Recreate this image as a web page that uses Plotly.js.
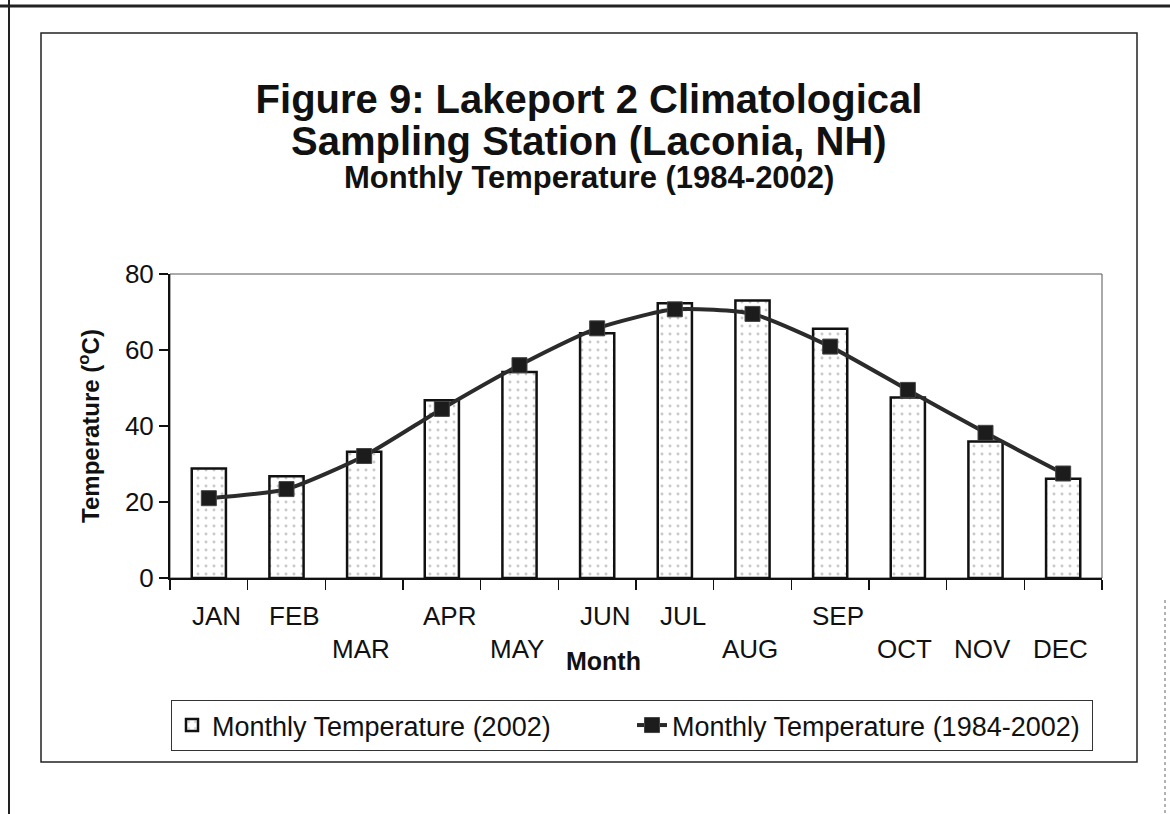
<!DOCTYPE html>
<html>
<head>
<meta charset="utf-8">
<script src="https://cdn.plot.ly/plotly-3.0.1.min.js"></script>
<style>html,body{margin:0;padding:0;background:#fff;}#chart{width:1170px;height:814px;}</style>
</head>
<body>
<div id="chart"></div>
<script>
// ---- data ----
const months = ['JAN','FEB','MAR','APR','MAY','JUN','JUL','AUG','SEP','OCT','NOV','DEC'];
const temp2002 = [28.8, 26.8, 33.2, 46.8, 54.2, 64.4, 72.3, 73.0, 65.6, 47.5, 35.9, 26.1];
const temp1984_2002 = [21.0, 23.4, 32.1, 44.5, 56.0, 65.7, 70.7, 69.5, 60.9, 49.5, 38.2, 27.5];
const yTicks = [0, 20, 40, 60, 80];
const labelRow = [1,1,2,1,2,1,1,2,1,2,2,2];

// ---- layout helpers (pixel -> paper) ----
const L = 170, R = 1102, T = 274, B = 578;
const px = x => (x - L) / (R - L);
const py = y => (B - y) / (B - T);
const FONT = 'Liberation Sans, Arial, sans-serif';
const TITLE_X = 589;

const bars = {
  type: 'bar', x: months, y: temp2002, name: 'Monthly Temperature (2002)',
  marker: {color: '#ffffff', line: {color: '#111', width: 2.5},
           pattern: {shape: '.', fgcolor: '#c8c8c8', bgcolor: '#ffffff', size: 8, solidity: 0.1}},
  hoverinfo: 'x+y'
};
const line = {
  type: 'scatter', mode: 'lines+markers', x: months, y: temp1984_2002,
  name: 'Monthly Temperature (1984-2002)',
  line: {color: '#2b2b2b', width: 4, shape: 'spline', smoothing: 0.6},
  marker: {symbol: 'square', size: 15, color: '#1c1c1c', line: {color: '#444', width: 1}}
};

const annotations = months.map((m, i) => ({
  x: m, xref: 'x', y: 0, yref: 'paper', yanchor: 'middle', xanchor: 'center',
  yshift: labelRow[i] === 1 ? -38 : -71, xshift: labelRow[i] === 1 ? 8 : -3,
  text: m, showarrow: false, font: {family: FONT, size: 26, color: '#111'}
}));
annotations.push({
  x: px(TITLE_X), xref: 'paper', y: py(141), yref: 'paper', xanchor: 'center', yanchor: 'middle',
  text: '<b>Sampling Station (Laconia, NH)</b>', showarrow: false,
  font: {family: FONT, size: 40, color: '#111'}
});
annotations.push({
  x: px(TITLE_X), xref: 'paper', y: py(178), yref: 'paper', xanchor: 'center', yanchor: 'middle',
  text: '<b>Monthly Temperature (1984-2002)</b>', showarrow: false,
  font: {family: FONT, size: 31, color: '#111'}
});
annotations.push({
  x: px(603), xref: 'paper', y: py(661), yref: 'paper', xanchor: 'center', yanchor: 'middle',
  text: '<b>Month</b>', showarrow: false,
  font: {family: FONT, size: 25, color: '#111'}
});

const shapes = [
  {type: 'rect', xref: 'paper', yref: 'paper', x0: 0, x1: 1, y0: 0, y1: 1,
   line: {color: '#555', width: 1}, layer: 'below'},
  {type: 'rect', xref: 'paper', yref: 'paper', x0: px(41), x1: px(1137), y0: py(762), y1: py(33),
   line: {color: '#222', width: 1.5}},
  {type: 'line', xref: 'paper', yref: 'paper', x0: px(9), x1: px(9), y0: py(0), y1: py(814),
   line: {color: '#222', width: 2}},
  {type: 'line', xref: 'paper', yref: 'paper', x0: px(0), x1: px(1170), y0: py(6), y1: py(6),
   line: {color: '#222', width: 3}},
  {type: 'line', xref: 'paper', yref: 'paper', x0: px(1165), x1: px(1165), y0: py(600), y1: py(814),
   line: {color: '#999', width: 1.5, dash: 'dot'}}
];

const layout = {
  width: 1170, height: 814,
  margin: {l: L, r: 1170 - R, t: T, b: 814 - B, pad: 0},
  paper_bgcolor: '#fff', plot_bgcolor: '#fff',
  font: {family: FONT, color: '#111'},
  title: {text: '<b>Figure 9: Lakeport 2 Climatological</b>', x: TITLE_X/1170, xanchor: 'center',
          y: 1 - 99/814, yanchor: 'middle', yref: 'container',
          font: {family: FONT, size: 40, color: '#111'}},
  showlegend: true,
  legend: {orientation: 'h', x: px(632), xanchor: 'center', y: py(700), yanchor: 'top',
           bordercolor: '#333', borderwidth: 1, font: {family: FONT, size: 27, color: '#111'},
           bgcolor: '#fff', itemwidth: 30, entrywidth: 415, entrywidthmode: 'pixels'},
  bargap: 0.56,
  xaxis: {type: 'category', categoryarray: months, range: [-0.5, 11.5], fixedrange: true,
          tickson: 'boundaries', ticks: 'outside', ticklen: 10, tickcolor: '#111', tickwidth: 1.5,
          showticklabels: false, showline: true, linecolor: '#111', linewidth: 2, showgrid: false},
  yaxis: {range: [0, 80], tickvals: yTicks, ticks: 'outside', ticklen: 9, tickcolor: '#111', tickwidth: 1.5,
          showline: true, linecolor: '#111', linewidth: 2, showgrid: false, zeroline: false,
          tickfont: {family: FONT, size: 26, color: '#111'},
          title: {text: '<b>Temperature (<sup>o</sup>C)</b>', standoff: 18, font: {family: FONT, size: 24, color: '#111'}}},
  yaxis2: {overlaying: 'y', side: 'left', range: [0, 80], tickvals: yTicks, ticks: 'inside', ticklen: 9,
           tickcolor: '#111', tickwidth: 1.5, showticklabels: false, showline: false, showgrid: false, zeroline: false},
  annotations: annotations,
  shapes: shapes
};

Plotly.newPlot('chart', [bars, line], layout, {displayModeBar: false, staticPlot: true});
</script>
</body>
</html>
